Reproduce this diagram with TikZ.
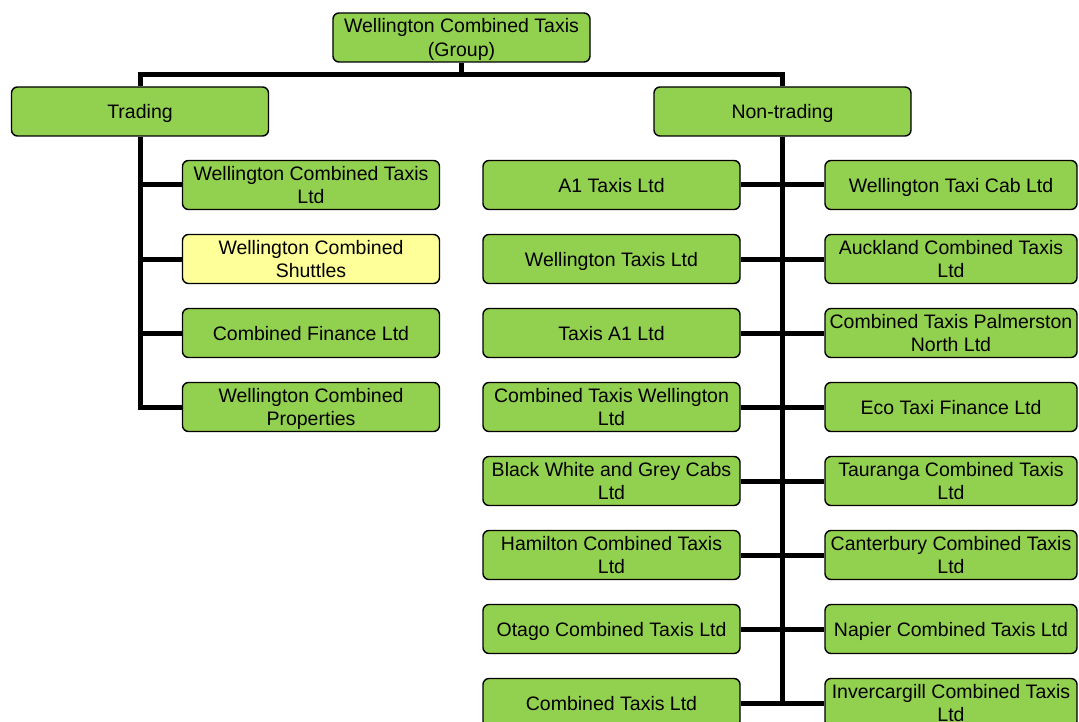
\documentclass[tikz,border=0pt]{standalone}
\usepackage{fontspec}
\setmainfont{Liberation Sans}
\definecolor{boxgreen}{HTML}{92D050}
\definecolor{boxyellow}{HTML}{FFFF99}
\begin{document}
\begin{tikzpicture}[x=1pt,y=-1pt,
  org/.style={draw=black, line width=1.4pt, rounded corners=6pt, fill=boxgreen,
    minimum width=257pt, minimum height=49pt, inner sep=2pt, align=center,
    text depth=0pt, font=\fontsize{19.5}{23.3}\selectfont, text=black},
  orgr/.style={org, minimum width=252pt},
  link/.style={line width=5pt}]
\useasboundingbox (0,0) rectangle (1079,722);
\clip (0,0) rectangle (1079,722);
% boxes
\node[org] (top) at (461.5,37.5) {Wellington Combined Taxis\\(Group)};
\node[org] (trading) at (140,111.5) {Trading};
\node[org] (nontrading) at (782.5,111.5) {Non-trading};
% trading children
\node[org] (t1) at (311,185) {Wellington Combined Taxis\\Ltd};
\node[org, fill=boxyellow] (t2) at (311,259) {Wellington Combined\\Shuttles};
\node[org] (t3) at (311,333) {Combined Finance Ltd};
\node[org] (t4) at (311,407) {Wellington Combined\\Properties};
% non-trading left column
\node[org] (l1) at (611.5,185) {A1 Taxis Ltd};
\node[org] (l2) at (611.5,259) {Wellington Taxis Ltd};
\node[org] (l3) at (611.5,333) {Taxis A1 Ltd};
\node[org] (l4) at (611.5,407) {Combined Taxis Wellington\\Ltd};
\node[org] (l5) at (611.5,481) {Black White and Grey Cabs\\Ltd};
\node[org] (l6) at (611.5,555) {Hamilton Combined Taxis\\Ltd};
\node[org] (l7) at (611.5,629) {Otago Combined Taxis Ltd};
\node[org] (l8) at (611.5,703) {Combined Taxis Ltd};
% non-trading right column
\node[orgr] (r1) at (951,185) {Wellington Taxi Cab Ltd};
\node[orgr] (r2) at (951,259) {Auckland Combined Taxis\\Ltd};
\node[orgr] (r3) at (951,333) {Combined Taxis Palmerston\\North Ltd};
\node[orgr] (r4) at (951,407) {Eco Taxi Finance Ltd};
\node[orgr] (r5) at (951,481) {Tauranga Combined Taxis\\Ltd};
\node[orgr] (r6) at (951,555) {Canterbury Combined Taxis\\Ltd};
\node[orgr] (r7) at (951,629) {Napier Combined Taxis Ltd};
\node[orgr] (r8) at (951,703) {Invercargill Combined Taxis\\Ltd};
% connectors
\coordinate (bar) at (461.5,74.5);
\draw[link] (top.south) -- (bar);
\draw[link] (trading.north) |- (bar) -| (nontrading.north);
\draw[link] (trading.south) |- (t4.west);
\foreach \i in {1,2,3} \draw[link] (trading.south |- t\i.west) -- (t\i.west);
\draw[link] (nontrading.south) -- (nontrading.south |- l8.east);
\foreach \i in {1,...,8} \draw[link] (l\i.east) -- (r\i.west);
\end{tikzpicture}
\end{document}
